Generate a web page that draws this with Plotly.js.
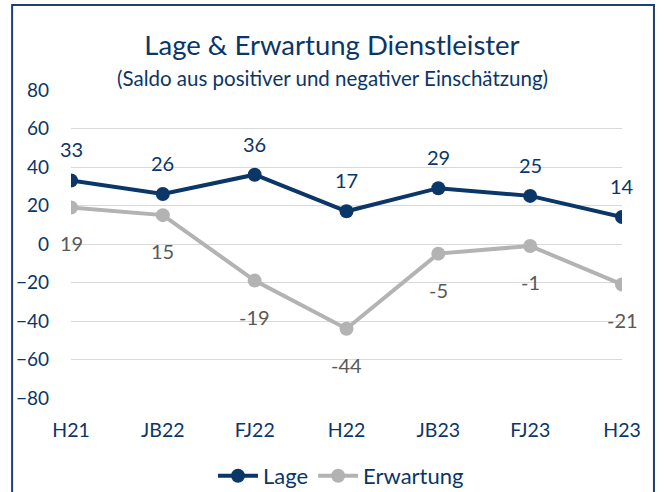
<!DOCTYPE html>
<html>
<head>
<meta charset="utf-8">
<script src="https://cdn.plot.ly/plotly-3.0.1.min.js"></script>
<style>html,body{margin:0;padding:0;background:#fff;}#chart{width:664px;height:492px;}</style>
</head>
<body>
<div id="chart"></div>
<script>
const categories = ["H21", "JB22", "FJ22", "H22", "JB23", "FJ23", "H23"];
const lage = [33, 26, 36, 17, 29, 25, 14];
const erwartung = [19, 15, -19, -44, -5, -1, -21];
const yTicks = [-80, -60, -40, -20, 0, 20, 40, 60, 80];

const BLUE = "#0b3668";
const GRAY = "#b3b3b3";
const LABELGRAY = "#595959";
const FONT = "Lato, 'Noto Sans', sans-serif";

const traces = [
  {x: categories, y: lage, name: "Lage", type: "scatter", mode: "lines+markers",
   line: {color: BLUE, width: 4}, marker: {color: BLUE, size: 14}},
  {x: categories, y: erwartung, name: "Erwartung", type: "scatter", mode: "lines+markers",
   line: {color: GRAY, width: 4}, marker: {color: GRAY, size: 14}}
];

const annotations = [];
categories.forEach((c, i) => {
  annotations.push({x: c, y: lage[i], text: String(lage[i]), showarrow: false, yshift: 31,
    font: {family: FONT, size: 20, color: BLUE}});
  annotations.push({x: c, y: erwartung[i], text: String(erwartung[i]), showarrow: false, yshift: -36,
    font: {family: FONT, size: 20, color: LABELGRAY}});
});
annotations.push({xref: "paper", yref: "paper", x: 0.475, y: 1.039, yanchor: "middle", xanchor: "center",
  text: "(Saldo aus positiver und negativer Einschätzung)", showarrow: false,
  font: {family: FONT, size: 20.5, color: BLUE}});

const layout = {
  width: 664, height: 492,
  margin: {l: 71, r: 42, t: 90, b: 94, autoexpand: false},
  paper_bgcolor: "#ffffff", plot_bgcolor: "#ffffff",
  font: {family: FONT, color: BLUE},
  title: {text: "Lage & Erwartung Dienstleister", x: 0.5, xanchor: "center", y: 0.907, yanchor: "middle",
    font: {family: FONT, size: 27.5, color: BLUE}},
  xaxis: {type: "category", range: [0, 6], showgrid: false, zeroline: false, showline: false, automargin: false,
    ticks: "", ticklabelstandoff: 18, tickfont: {family: FONT, size: 19.5, color: BLUE}, fixedrange: true},
  yaxis: {range: [-80, 80], tickvals: yTicks, showgrid: true, gridcolor: "#d9d9d9", gridwidth: 1, automargin: false,
    zeroline: false, showline: false, ticks: "", ticklabelstandoff: 21,
    tickfont: {family: FONT, size: 19, color: BLUE}, fixedrange: true},
  showlegend: true,
  legend: {orientation: "h", x: 0.49, xanchor: "center", y: -0.253, yanchor: "middle",
    font: {family: FONT, size: 22, color: BLUE}, itemwidth: 40, tracegroupgap: 0},
  annotations: annotations,
  shapes: [{type: "rect", xref: "paper", yref: "paper", x0: -0.1069, x1: 1.058, y0: -0.35, y1: 1.276,
    line: {color: "#1f3f6e", width: 2}, fillcolor: "rgba(0,0,0,0)", layer: "below"}]
};

Plotly.newPlot("chart", traces, layout, {displayModeBar: false, staticPlot: true});
</script>
</body>
</html>
